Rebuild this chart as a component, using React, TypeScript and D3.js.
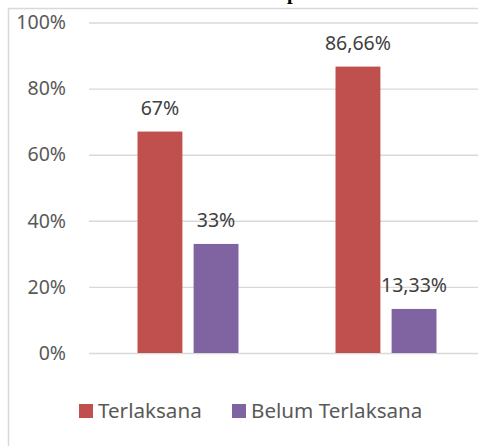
import React, { useRef, useEffect } from 'react';
import * as d3 from 'd3';

// chart values
const categories = ['Kategori 1', 'Kategori 2'];
const seriesNames = ['Terlaksana', 'Belum Terlaksana'];
const terlaksana = [67, 86.66];
const belumTerlaksana = [33, 13.33];
const terlaksanaLabels = ['67%', '86,66%'];
const belumLabels = ['33%', '13,33%'];
const yTicks = [0, 20, 40, 60, 80, 100];
const colors = ['#C0504D', '#8064A2'];
const titleFragment = 'p'; // only the descender of the title shows above the frame

const W = 478;
const H = 446;
const FONT = '"Noto Sans", sans-serif';

function App() {
  const ref = useRef<SVGSVGElement>(null);

  useEffect(() => {
    const svg = d3.select(ref.current);
    svg.selectAll('*').remove();

    const left = 89;
    const right = 485; // plot runs past the cropped edge
    const top = 22.5;
    const bottom = 353;

    const y = d3.scaleLinear().domain([0, 100]).range([bottom, top]);
    const x0 = d3.scaleBand<string>().domain(categories).range([left, right])
      .paddingInner(0.49).paddingOuter(0.245);
    const x1 = d3.scaleBand<string>().domain(seriesNames).range([0, x0.bandwidth()])
      .paddingInner(0.2);

    // chart frame
    svg.append('rect')
      .attr('x', 8.5).attr('y', 8.5)
      .attr('width', W + 20).attr('height', H + 20)
      .attr('fill', '#fff')
      .attr('stroke', '#D9D9D9').attr('stroke-width', 1.5);

    // title (cut off at the top)
    svg.append('text')
      .attr('x', 287).attr('y', -1)
      .attr('font-family', '"Liberation Serif", serif')
      .attr('font-weight', 'bold')
      .attr('font-size', 20)
      .attr('fill', '#000')
      .text(titleFragment);

    const yAxis = d3.axisLeft(y)
      .tickValues(yTicks)
      .tickSize(-(right - left))
      .tickPadding(23)
      .tickFormat(d => `${d}%`);

    const g = svg.append('g').attr('transform', `translate(${left},0)`).call(yAxis);
    g.select('.domain').remove();
    g.selectAll('.tick line').attr('stroke', '#D9D9D9').attr('stroke-width', 1.4);
    g.selectAll('.tick text')
      .attr('fill', '#595959')
      .attr('font-family', FONT)
      .attr('font-size', 19.5);

    const rows = categories.map((c, i) => ({
      cat: c,
      vals: [
        { s: seriesNames[0], v: terlaksana[i], label: terlaksanaLabels[i] },
        { s: seriesNames[1], v: belumTerlaksana[i], label: belumLabels[i] },
      ],
    }));

    const groups = svg.selectAll('g.cat')
      .data(rows)
      .enter()
      .append('g')
      .attr('class', 'cat')
      .attr('transform', d => `translate(${x0(d.cat)},0)`);

    groups.selectAll('rect')
      .data(d => d.vals)
      .enter()
      .append('rect')
      .attr('x', d => x1(d.s) || 0)
      .attr('y', d => y(d.v))
      .attr('width', x1.bandwidth())
      .attr('height', d => y(0) - y(d.v))
      .attr('fill', (d, i) => colors[i]);

    groups.selectAll('text')
      .data(d => d.vals)
      .enter()
      .append('text')
      .attr('x', d => (x1(d.s) || 0) + x1.bandwidth() / 2)
      .attr('y', d => y(d.v) - 17)
      .attr('text-anchor', 'middle')
      .attr('fill', '#404040')
      .attr('font-family', FONT)
      .attr('font-size', 19.5)
      .text(d => d.label);

    // legend
    const legendX = [79, 232];
    const legend = svg.selectAll('g.legend')
      .data(seriesNames)
      .enter()
      .append('g')
      .attr('class', 'legend')
      .attr('transform', (d, i) => `translate(${legendX[i]},404)`);
    legend.append('rect')
      .attr('width', 14).attr('height', 14)
      .attr('fill', (d, i) => colors[i]);
    legend.append('text')
      .attr('x', 19).attr('y', 14)
      .attr('fill', '#595959')
      .attr('font-family', FONT)
      .attr('font-size', 20.6)
      .text(d => d);

    return () => {
      svg.selectAll('*').remove();
    };
  }, []);

  return (
    <svg ref={ref} width={W} height={H}
      style={{ position: 'absolute', left: 0, top: 0, background: '#fff' }} />
  );
}

export default App;
